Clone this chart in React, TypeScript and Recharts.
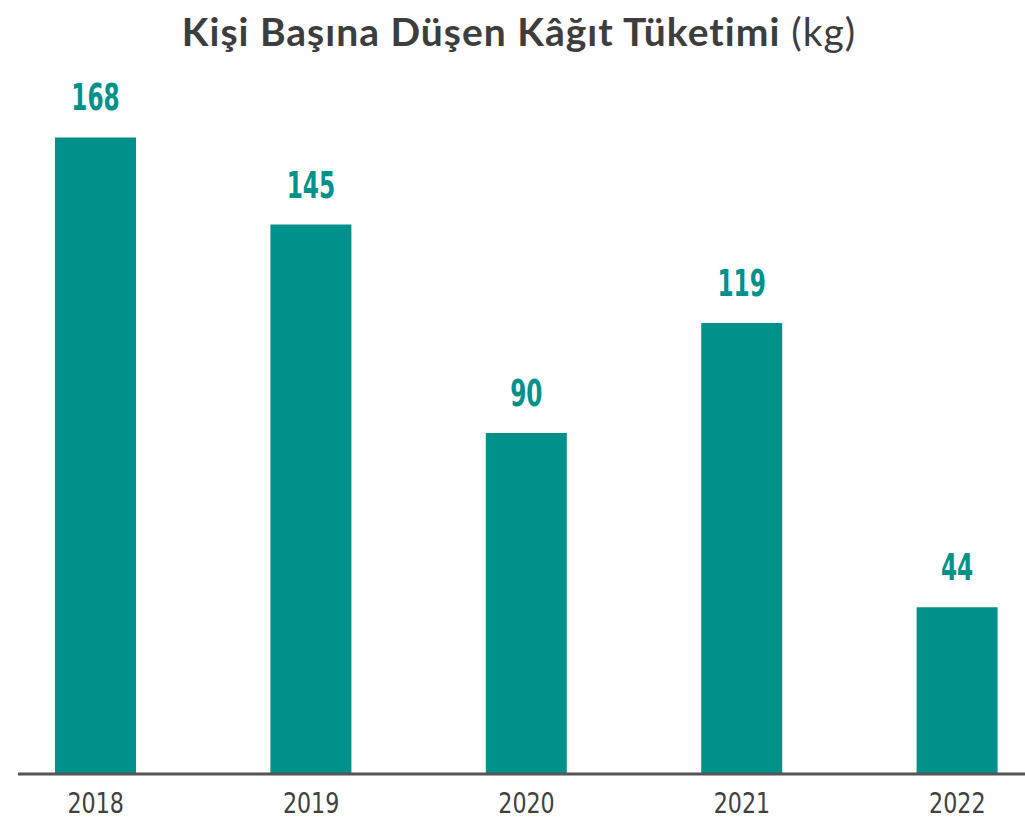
import { BarChart, Bar, XAxis, YAxis, LabelList } from "recharts"

const years = ["2018", "2019", "2020", "2021", "2022"]
const consumption = [168, 145, 90, 119, 44]

const chartData = years.map((year, i) => ({ year, value: consumption[i] }))

const TEAL = "#00918a"
const NARROW = "'DejaVu Sans Condensed', 'DejaVu Sans', sans-serif"

// condensed look: squeeze the condensed font horizontally around its anchor
function YearTick(props: any) {
  const { x, y, payload } = props
  return (
    <text
      transform={`translate(${x},${y}) scale(0.85,1)`}
      textAnchor="middle"
      fill="#404040"
      fontSize={29}
      fontFamily={NARROW}
    >
      {payload.value}
    </text>
  )
}

function ValueLabel(props: any) {
  const { x, y, width, value } = props
  return (
    <text
      transform={`translate(${x + width / 2},${y - 27}) scale(0.68,1)`}
      textAnchor="middle"
      fill={TEAL}
      fontSize={38}
      fontWeight={700}
      fontFamily={NARROW}
    >
      {value}
    </text>
  )
}

export default function App() {
  return (
    <div style={{ position: "absolute", left: 0, top: 0, width: 1025, height: 820, background: "#fff" }}>
      {/* Title */}
      <div
        style={{
          position: "absolute",
          top: 9,
          left: 0,
          width: 1038,
          textAlign: "center",
          fontFamily: "Lato, sans-serif",
          fontSize: 39,
          letterSpacing: 1,
          color: "#3d3d3d",
          lineHeight: "44px",
          whiteSpace: "nowrap",
        }}
      >
        <span style={{ fontWeight: 700 }}>Kişi Başına Düşen Kâğıt Tüketimi</span>{" "}
        <span style={{ fontWeight: 400 }}>(kg)</span>
      </div>

      <BarChart
        width={1025}
        height={820}
        data={chartData}
        margin={{ top: 92, right: 0, left: 18, bottom: 0 }}
      >
        <YAxis hide domain={[0, 180]} />
        <XAxis
          dataKey="year"
          height={46}
          padding={{ left: -30, right: -40 }}
          axisLine={{ stroke: "#555555", strokeWidth: 3 }}
          tickLine={false}
          tickSize={0}
          tickMargin={39}
          tick={<YearTick />}
        />
        <Bar dataKey="value" fill={TEAL} barSize={81} isAnimationActive={false}>
          <LabelList dataKey="value" content={<ValueLabel />} />
        </Bar>
      </BarChart>
    </div>
  )
}
